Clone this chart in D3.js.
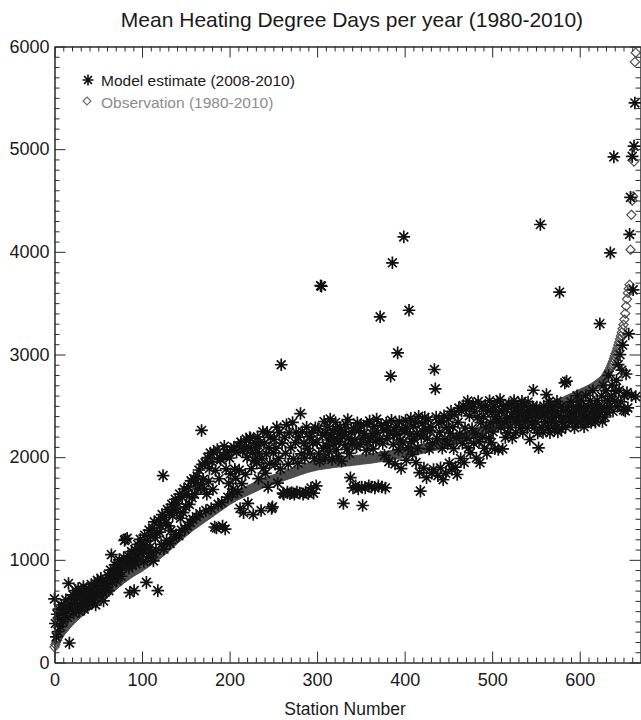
<!DOCTYPE html>
<html>
<head>
<meta charset="utf-8">
<script src="https://cdn.jsdelivr.net/npm/d3@7"></script>
<style>
	body { margin: 0; background: #fff; }
	text { font-family: "Liberation Sans", Arial, Helvetica, sans-serif; }
</style>
</head>
<body>
<script>
'use strict';

const params = {
	width: 641,
	height: 720,
	left: 54.5,
	right: 641,
	top: 46.5,
	bottom: 662.5
};

// Axis ranges and ticks
const xDomain = [0, 670];
const yDomain = [0, 6000];
const xMajorTicks = [0, 100, 200, 300, 400, 500, 600];
const yMajorTicks = [0, 1000, 2000, 3000, 4000, 5000, 6000];

const titleText = "Mean Heating Degree Days per year (1980-2010)";
const xLabelText = "Station Number";
const legendLabels = ["Model estimate (2008-2010)", "Observation (1980-2010)"];

// Observed mean HDD per station (index = station number), sorted
const obsValues = [
	150,175,200,220,240,255,270,285,295,305,
	315,325,335,345,355,365,375,385,395,405,
	412,420,428,436,444,452,460,468,475,482,
	489,496,503,510,517,524,531,538,544,550,
	556,562,568,574,580,586,592,598,604,610,
	617,624,631,638,645,652,659,666,673,680,
	687,694,701,708,715,722,729,736,743,750,
	757,764,771,778,785,792,799,806,813,820,
	826,832,838,844,850,856,862,868,874,880,
	885,890,895,900,905,910,915,920,925,930,
	936,942,948,954,960,966,972,978,984,990,
	996,1002,1008,1014,1020,1026,1032,1038,1044,1050,
	1057,1064,1071,1078,1085,1092,1099,1106,1113,1120,
	1128,1136,1144,1152,1160,1168,1176,1184,1192,1200,
	1207,1214,1221,1228,1235,1242,1249,1256,1263,1270,
	1277,1284,1291,1298,1305,1312,1319,1326,1333,1340,
	1345,1351,1357,1363,1369,1375,1381,1387,1393,1399,
	1405,1411,1417,1423,1429,1435,1441,1447,1453,1459,
	1465,1471,1477,1483,1489,1495,1501,1507,1513,1519,
	1525,1531,1537,1543,1549,1555,1561,1567,1573,1579,
	1584,1589,1594,1599,1604,1609,1614,1619,1624,1629,
	1633,1637,1641,1645,1649,1653,1657,1661,1665,1669,
	1673,1677,1681,1685,1689,1693,1697,1701,1705,1709,
	1713,1717,1721,1725,1729,1733,1737,1741,1745,1749,
	1752,1755,1758,1761,1764,1767,1770,1773,1776,1779,
	1782,1785,1788,1791,1794,1797,1800,1803,1806,1809,
	1811,1814,1817,1820,1823,1826,1829,1832,1835,1838,
	1841,1844,1847,1850,1853,1856,1859,1862,1865,1868,
	1871,1874,1877,1880,1883,1886,1889,1892,1895,1898,
	1900,1902,1904,1906,1908,1910,1912,1914,1916,1918,
	1921,1922,1924,1925,1926,1927,1929,1930,1931,1932,
	1934,1935,1936,1938,1939,1940,1941,1943,1944,1945,
	1946,1947,1948,1949,1950,1951,1952,1953,1954,1955,
	1956,1957,1958,1959,1960,1961,1962,1963,1964,1965,
	1966,1967,1968,1969,1970,1971,1972,1973,1974,1975,
	1976,1977,1978,1979,1980,1981,1982,1983,1984,1985,
	1986,1987,1988,1990,1991,1992,1994,1995,1996,1998,
	1999,2000,2002,2003,2004,2006,2007,2008,2010,2011,
	2012,2014,2015,2017,2018,2020,2021,2023,2024,2026,
	2027,2029,2030,2032,2033,2035,2036,2038,2039,2040,
	2042,2044,2046,2048,2050,2052,2054,2056,2058,2060,
	2062,2064,2066,2068,2070,2072,2074,2076,2078,2080,
	2082,2084,2086,2088,2090,2092,2094,2096,2098,2100,
	2102,2104,2106,2108,2110,2112,2114,2116,2118,2120,
	2122,2124,2127,2129,2132,2134,2137,2139,2142,2144,
	2147,2149,2152,2154,2157,2159,2162,2164,2167,2170,
	2173,2176,2179,2182,2185,2188,2191,2194,2197,2200,
	2203,2206,2209,2212,2215,2218,2221,2224,2227,2230,
	2233,2236,2239,2242,2245,2248,2251,2254,2257,2260,
	2263,2266,2269,2272,2275,2278,2281,2284,2287,2290,
	2293,2296,2299,2302,2305,2308,2311,2314,2317,2320,
	2323,2326,2329,2332,2335,2338,2341,2344,2347,2350,
	2353,2356,2359,2362,2365,2368,2371,2374,2377,2380,
	2383,2386,2389,2392,2395,2398,2401,2404,2407,2410,
	2413,2416,2419,2422,2425,2428,2431,2434,2437,2440,
	2443,2446,2449,2452,2455,2458,2461,2464,2467,2470,
	2473,2476,2479,2482,2485,2488,2491,2494,2497,2500,
	2503,2506,2509,2512,2515,2518,2521,2524,2527,2530,
	2534,2538,2542,2546,2550,2554,2558,2562,2566,2570,
	2574,2578,2582,2586,2590,2594,2598,2602,2606,2610,
	2614,2618,2622,2626,2630,2634,2638,2642,2646,2650,
	2655,2660,2665,2670,2675,2680,2686,2692,2698,2704,
	2710,2717,2724,2731,2738,2745,2753,2761,2769,2777,
	2790,2805,2820,2836,2852,2870,2890,2912,2935,2960,
	2985,3010,3035,3060,3090,3120,3150,3180,3215,3250,
	3290,3340,3400,3470,3540,3600,3640,3680,4020,4360,4500,4540,4880,5850,5940
];

// Model estimate per station (same station order)
const modelValues = [
	620,380,250,470,300,520,420,350,560,480,
	400,540,460,610,500,440,770,190,560,620,
	520,660,480,580,700,540,620,720,500,650,
	560,680,620,740,520,600,700,640,560,720,
	680,620,760,580,700,650,740,560,680,800,
	780,700,650,820,760,690,600,740,800,700,
	760,850,700,820,900,1050,780,870,820,950,
	880,800,940,860,1000,900,840,980,920,1020,
	1190,1200,960,1210,1040,920,680,1000,1080,950,
	1000,700,1100,960,1050,1150,1000,1080,1200,1120,
	1060,1145,985,1240,1110,780,1185,1030,1290,1120,
	1230,1070,1310,990,1370,1215,1095,1265,700,1385,
	1270,1335,1150,1440,1820,1105,1410,1360,1190,1490,
	1330,1465,1160,1285,1540,1430,1210,1505,1590,1245,
	1470,1545,1235,1640,1405,1290,1610,1460,1690,1300,
	1515,1640,1330,1710,1540,1365,1770,1605,1395,1790,
	1640,1745,1420,1815,1690,1875,1450,1735,2260,1930,
	1785,1690,1945,1480,1640,1995,1765,1890,2040,1500,
	1955,1685,2045,1320,1870,1310,2075,1540,1790,1990,
	1975,1560,1330,2015,2107,1300,1885,2045,1610,1745,
	1992,1838,2071,1643,1688,2097,1881,1793,2049,1662,
	2113,1874,1500,2146,1742,2058,1460,2087,1833,2177,
	1998,1550,2093,2190,2182,1887,2043,1441,1968,2139,
	2083,1947,2198,1791,2036,2143,1480,1986,2248,1893,
	2137,1842,2031,2243,1707,2092,1938,2196,1500,1516,
	2041,2173,1931,2088,2293,1747,1987,2241,1886,2900,
	2136,1650,1640,2194,2038,2315,1660,1932,2237,1645,
	2092,1655,2338,1983,1640,2141,2243,1660,1942,2193,
	1650,2425,2033,2247,1640,2132,1991,1660,2292,2083,
	1645,2198,2037,1700,2236,2143,1650,1988,2287,1720,
	2143,2276,2031,1962,3670,3665,2214,2088,2347,1995,
	2238,2112,2301,2167,2054,2372,2196,1978,2259,2126,
	2183,2338,2072,2264,2009,2151,2289,2227,1961,2205,
	1549,2251,2119,2318,2077,2366,2184,2036,1800,2243,
	2132,1700,2283,2171,1720,2099,2334,1690,2257,2128,
	2306,1710,1529,2186,2231,1700,2068,2319,2147,1720,
	2352,2193,1710,2228,2081,2297,1700,2156,2371,2238,
	1720,2172,3367,2309,1710,2134,2262,2017,1700,2333,
	2181,2288,1957,2246,2789,2359,3893,2123,2214,1934,
	2292,2226,3016,2074,2347,2167,1889,2273,2138,4146,
	2247,2356,1972,2284,2093,3431,2219,2378,2152,2028,
	2301,2177,2342,1948,2233,2086,2398,1850,1669,2197,
	2327,2248,1893,2389,2274,1800,2182,2366,2079,2256,
	2293,1845,2137,1880,2854,2665,2391,2178,1820,2336,
	2241,1897,2352,2087,1780,2403,2169,1843,2287,2128,
	2374,1941,2232,2447,1880,2296,2083,2412,1903,2187,
	1831,2339,2478,2226,1987,2451,2133,2502,1948,2284,
	2471,2186,2547,2091,2403,2043,2496,2279,2518,2137,
	2447,2231,1992,2388,2541,2152,1945,2337,2483,2196,
	2392,2087,2506,2291,2038,2452,2183,2549,2336,2141,
	2438,2247,2493,2082,2397,2352,2538,2075,2441,2561,
	2286,2449,2080,2497,2338,2192,2473,2381,2236,2519,
	2387,2291,2508,2187,2436,2552,2343,2238,2479,2392,
	2498,2336,2287,2447,2543,2241,2389,2503,2352,2446,
	2283,2538,2396,2172,2441,2337,2492,2652,2288,2401,
	2342,2487,2236,2091,2452,4266,2389,2293,2240,2498,
	2436,2343,2610,2397,2289,2541,2238,2446,2351,2487,
	2392,2281,2448,2337,2543,2246,2402,3607,2491,2270,
	2343,2452,2388,2724,2296,2740,2489,2352,2441,2386,
	2537,2398,2342,2493,2287,2449,2383,2598,2336,2502,
	2447,2338,2553,2391,2487,2296,2443,2601,2386,2342,
	2491,2387,2548,2339,2452,2647,2393,2503,2341,2447,
	2552,2388,2497,3300,2438,2596,2349,2698,2487,2391,
	2648,2441,2553,2797,2489,3990,2593,2701,2447,4925,
	2546,2642,2748,2493,2902,2651,2998,2538,2847,3092,
	2460,2600,2450,2810,2630,2480,3200,4170,4530,2600,4930,3630,5030,5450,2590
];

// Symbol paths (IDL style asterisk and diamond)
const asteriskPath = (r) => {
	const d = r * 0.7071;
	return `M${-r},0L${r},0M0,${-r}L0,${r}M${-d},${-d}L${d},${d}M${-d},${d}L${d},${-d}`;
}
const diamondPath = (r) => `M0,${-r}L${r},0L0,${r}L${-r},0Z`;

// Make X and Y scales.
// RETURNS: X scale and Y scale.
const makeScales = (params) => {
	const xScale = d3.scaleLinear()
		.domain(xDomain)
		.range([params.left, params.right])

	const yScale = d3.scaleLinear()
		.domain(yDomain)
		.range([params.bottom, params.top])

	return [xScale, yScale];
}

// Draw boxed axes with inward major/minor ticks on all four sides.
const addAxes = (svg, xScale, yScale, params) => {
	const xMinor = d3.range(0, 671, 10).filter(v => v % 100 !== 0);
	const yMinor = d3.range(0, 6001, 100).filter(v => v % 1000 !== 0);
	const axisColor = "#2a2a2a";

	const styleAxis = (g) => {
		g.selectAll("path, line").attr("stroke", axisColor).attr("stroke-width", 1);
		g.selectAll("text").attr("fill", "#1a1a1a").attr("font-size", "18px")
			.attr("font-family", '"Liberation Sans", Arial, Helvetica, sans-serif');
	}

	// bottom
	svg.append("g")
		.attr("transform", `translate(0,${params.bottom})`)
		.call(d3.axisBottom(xScale).tickValues(xMajorTicks).tickSize(-11).tickSizeOuter(0).tickPadding(11).tickFormat(d3.format("d")))
		.call(styleAxis)
	svg.append("g")
		.attr("transform", `translate(0,${params.bottom})`)
		.call(d3.axisBottom(xScale).tickValues(xMinor).tickSize(-5).tickSizeOuter(0).tickFormat(""))
		.call(styleAxis)

	// top
	svg.append("g")
		.attr("transform", `translate(0,${params.top})`)
		.call(d3.axisTop(xScale).tickValues(xMajorTicks).tickSize(-11).tickSizeOuter(0).tickFormat(""))
		.call(styleAxis)
	svg.append("g")
		.attr("transform", `translate(0,${params.top})`)
		.call(d3.axisTop(xScale).tickValues(xMinor).tickSize(-5).tickSizeOuter(0).tickFormat(""))
		.call(styleAxis)

	// left
	svg.append("g")
		.attr("transform", `translate(${params.left},0)`)
		.call(d3.axisLeft(yScale).tickValues(yMajorTicks).tickSize(-11).tickSizeOuter(0).tickPadding(5).tickFormat(d3.format("d")))
		.call(styleAxis)
	svg.append("g")
		.attr("transform", `translate(${params.left},0)`)
		.call(d3.axisLeft(yScale).tickValues(yMinor).tickSize(-5).tickSizeOuter(0).tickFormat(""))
		.call(styleAxis)

	// right
	svg.append("g")
		.attr("transform", `translate(${params.right - 0.5},0)`)
		.call(d3.axisRight(yScale).tickValues(yMajorTicks).tickSize(-11).tickSizeOuter(0).tickFormat(""))
		.call(styleAxis)
	svg.append("g")
		.attr("transform", `translate(${params.right - 0.5},0)`)
		.call(d3.axisRight(yScale).tickValues(yMinor).tickSize(-5).tickSizeOuter(0).tickFormat(""))
		.call(styleAxis)
}

const svg = d3.select("body")
	.append("svg")
	.attr("width", params.width)
	.attr("height", params.height)

const [xScale, yScale] = makeScales(params);

// observations (diamonds), drawn first so the asterisks sit on top
svg.append("g")
	.attr("fill", "none")
	.attr("stroke", "#4e4e4e")
	.attr("stroke-width", 1.2)
	.selectAll("path")
	.data(obsValues)
	.join("path")
		.attr("transform", (d, i) => `translate(${xScale(i)},${yScale(d)})`)
		.attr("d", diamondPath(4.6))

// model estimates (asterisks)
svg.append("g")
	.attr("fill", "none")
	.attr("stroke", "#111")
	.attr("stroke-width", 1.7)
	.selectAll("path")
	.data(modelValues)
	.join("path")
		.attr("transform", (d, i) => `translate(${xScale(i)},${yScale(d)})`)
		.attr("d", asteriskPath(6.3))

addAxes(svg, xScale, yScale, params);

// title and axis label
svg.append("text")
	.attr("x", 352)
	.attr("y", 27)
	.attr("text-anchor", "middle")
	.attr("font-size", "21px")
	.attr("fill", "#1a1a1a")
	.text(titleText)

svg.append("text")
	.attr("x", 345)
	.attr("y", 715)
	.attr("text-anchor", "middle")
	.attr("font-size", "17.5px")
	.attr("fill", "#1a1a1a")
	.text(xLabelText)

// legend
const legend = svg.append("g")
legend.append("path")
	.attr("transform", "translate(88,80)")
	.attr("d", asteriskPath(5.5))
	.attr("fill", "none")
	.attr("stroke", "#111")
	.attr("stroke-width", 1.6)
legend.append("text")
	.attr("x", 101)
	.attr("y", 86)
	.attr("font-size", "15.5px")
	.attr("fill", "#1a1a1a")
	.text(legendLabels[0])
legend.append("path")
	.attr("transform", "translate(87,101)")
	.attr("d", diamondPath(4))
	.attr("fill", "none")
	.attr("stroke", "#6a6a6a")
	.attr("stroke-width", 1.1)
legend.append("text")
	.attr("x", 101)
	.attr("y", 108)
	.attr("font-size", "15.5px")
	.attr("fill", "#8c8c8c")
	.text(legendLabels[1])
</script>
</body>
</html>
